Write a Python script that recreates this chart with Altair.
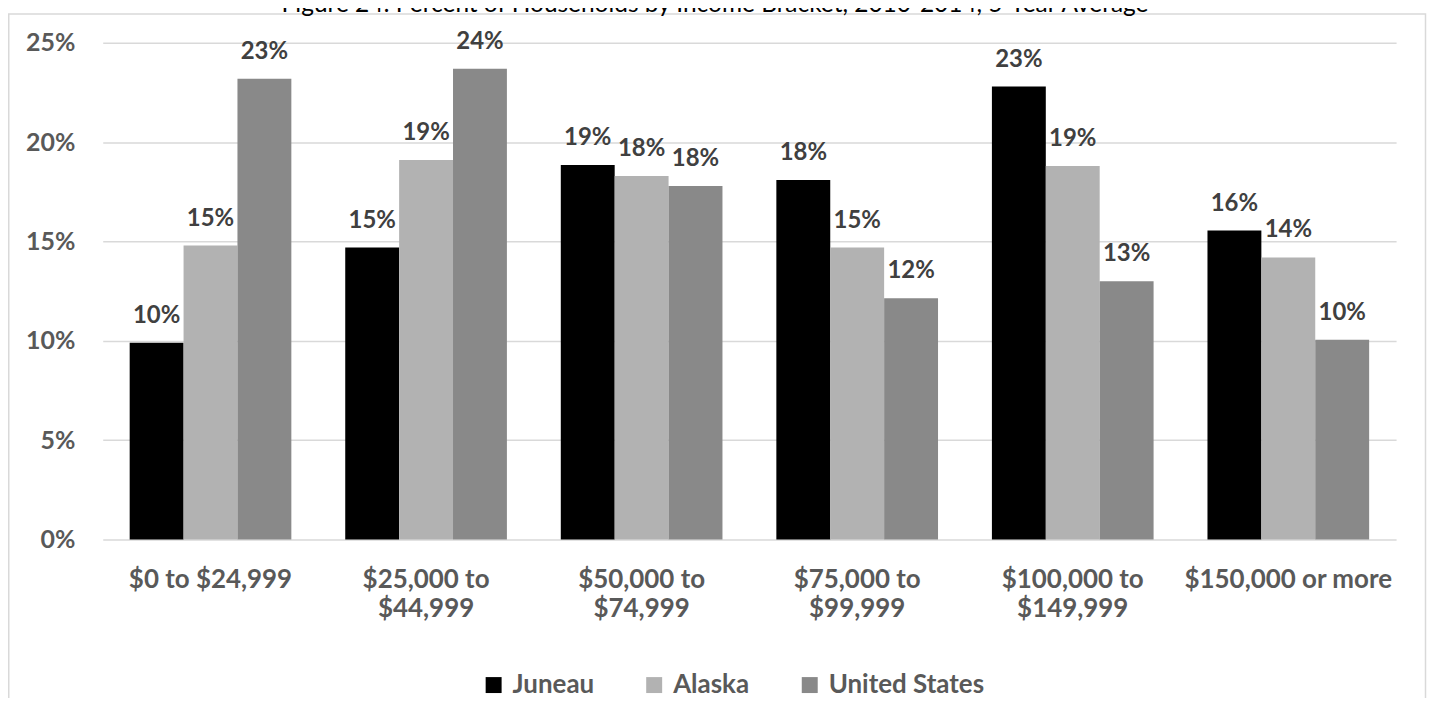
import altair as alt
import pandas as pd

TITLE = "Figure 24: Percent of Households by Income Bracket, 2010-2014, 5-Year Average"
CATEGORIES = ["$0 to $24,999", "$25,000 to|$44,999", "$50,000 to|$74,999",
              "$75,000 to|$99,999", "$100,000 to|$149,999", "$150,000 or more"]
SERIES = ["Juneau", "Alaska", "United States"]
COLORS = ["#000000", "#b2b2b2", "#898989"]
JUNEAU = [9.9, 14.7, 18.85, 18.1, 22.8, 15.55]
ALASKA = [14.8, 19.1, 18.3, 14.7, 18.8, 14.2]
UNITED_STATES = [23.2, 23.7, 17.8, 12.15, 13.0, 10.05]
Y_TICKS = [0, 5, 10, 15, 20, 25]

rows = []
for name, vals in zip(SERIES, [JUNEAU, ALASKA, UNITED_STATES]):
    for cat, v in zip(CATEGORIES, vals):
        rows.append({"category": cat, "series": name, "value": v})
df = pd.DataFrame(rows)

PLOT_W, PLOT_H = 1297, 498
PAD = {"left": 95, "top": 34, "right": 31, "bottom": 158}
FONT = "Lato"
AXIS_GREY = "#595959"

x_enc = alt.X("category:N", sort=CATEGORIES,
              scale=alt.Scale(paddingInner=0.25, paddingOuter=0.125),
              axis=alt.Axis(title=None, labelExpr="split(datum.label, '|')",
                            labelAngle=0, ticks=False, tickSize=0, domain=False,
                            labelPadding=27, labelLineHeight=29, labelLimit=400,
                            labelFont=FONT, labelFontSize=26, labelFontWeight="bold",
                            labelColor=AXIS_GREY, grid=False))
xo_enc = alt.XOffset("series:N", sort=SERIES,
                     scale=alt.Scale(paddingInner=0, paddingOuter=0))
y_enc = alt.Y("value:Q", scale=alt.Scale(domain=[0, 25], nice=False, zero=True),
              axis=alt.Axis(title=None, values=Y_TICKS, labelExpr="datum.value + '%'",
                            ticks=False, tickSize=0, domain=False, labelPadding=28,
                            labelFont=FONT, labelFontSize=25, labelFontWeight="bold",
                            labelColor=AXIS_GREY, grid=True, gridColor="#d9d9d9",
                            gridWidth=1.5))

base = alt.Chart(df)

bars = base.mark_bar().encode(
    x=x_enc, xOffset=xo_enc, y=y_enc,
    color=alt.Color("series:N", sort=SERIES,
                    scale=alt.Scale(domain=SERIES, range=COLORS),
                    legend=alt.Legend(orient="none", legendX=379, legendY=631,
                                      direction="horizontal", title=None,
                                      symbolType="square", symbolSize=256,
                                      symbolStrokeWidth=0, labelFont=FONT,
                                      labelFontSize=26, labelFontWeight="bold",
                                      labelColor=AXIS_GREY, columnPadding=47,
                                      labelOffset=6, padding=0)),
)

labels = base.transform_calculate(
    label="format(datum.value, '.0f') + '%'"
).mark_text(dy=-20, baseline="alphabetic", align="center", font=FONT,
            fontSize=24, fontWeight="bold", color="#404040").encode(
    x=alt.X("category:N", sort=CATEGORIES), xOffset=alt.XOffset("series:N", sort=SERIES),
    y=alt.Y("value:Q"), text="label:N",
)

frame = alt.Chart(alt.Data(values=[{"k": 1}])).mark_rect(
    filled=False, stroke="#d9d9d9", strokeWidth=1.5
).encode(x=alt.value(-94.25), x2=alt.value(1326.5), y=alt.value(-29), y2=alt.value(720))

title = alt.Chart(alt.Data(values=[{"t": TITLE}])).mark_text(
    font=FONT, fontSize=24.5, color="#000000", align="center", baseline="alphabetic"
).encode(x=alt.value(614), y=alt.value(-31), text="t:N")

chart = alt.layer(frame, bars, labels, title).properties(
    width=PLOT_W, height=PLOT_H,
    autosize=alt.AutoSizeParams(type="none"),
    padding=PAD,
).configure_view(stroke="transparent")

chart.save("out.html", embed_options={"renderer": "svg", "actions": False})
